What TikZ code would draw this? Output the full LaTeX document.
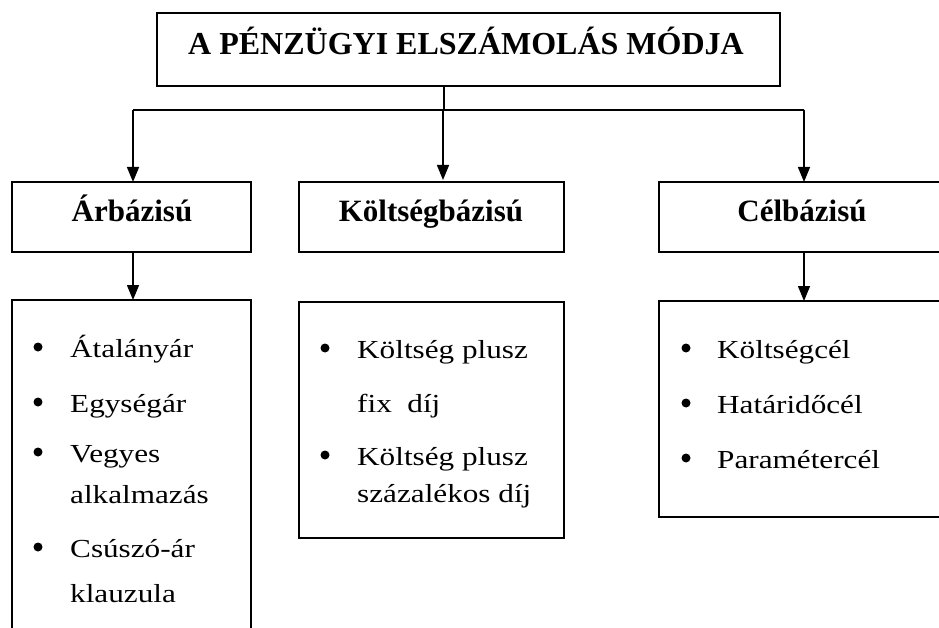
\documentclass[tikz,border=0pt]{standalone}
\usepackage{fontspec}
\setmainfont{Liberation Serif}
\newfontfamily\bodyfont[FakeStretch=1.2]{Liberation Serif}
\usetikzlibrary{arrows.meta}
\begin{document}
\begin{tikzpicture}[x=1pt,y=-1pt,
 box/.style={draw,line width=1.8pt,inner sep=0pt},
 conn/.style={line width=1.5pt},
 arr/.style={conn,-{Triangle[width=12pt,length=15pt]}},
 head/.style={font=\fontsize{31}{31}\selectfont\bfseries,anchor=base,inner sep=0pt},
 item/.style={font=\bodyfont\fontsize{26}{26}\selectfont,anchor=base west,inner sep=0pt},
 dot/.style={circle,fill,inner sep=0pt,minimum size=9pt}]
\useasboundingbox (0,0) rectangle (939,628);
% title
\node[box,minimum width=623pt,minimum height=73pt] (title) at (468.5,49.5) {};
\node[font=\fontsize{32}{32}\selectfont\bfseries,anchor=base,inner sep=0pt] (titletext) at (466,55) {A PÉNZÜGYI ELSZÁMOLÁS MÓDJA};
% level 2
\node[box,minimum width=239pt,minimum height=70pt] (ar) at (131.5,217) {};
\node[head] (artext) at (132,222) {Árbázisú};
\node[box,minimum width=265pt,minimum height=70pt] (ko) at (431.5,217) {};
\node[head] (kotext) at (431,222) {Költségbázisú};
\draw[box] (939,182) -- (659,182) -- (659,252) -- (939,252);
\node[head] (celtext) at (802,222) {Célbázisú};
% level 3 boxes
\draw[box] (12,628) -- (12,300) -- (251,300) -- (251,628);
\node[box,minimum width=265pt,minimum height=236pt] (kolist) at (431.5,420) {};
\draw[box] (939,301) -- (659,301) -- (659,517) -- (939,517);
% connector points
\coordinate (stemtop) at (444,86);
\coordinate (j) at (444,110);
\coordinate (jl) at (133,110);
\coordinate (jm) at (443,110);
\coordinate (jr) at (804,110);
\coordinate (artop) at (133,182);
\coordinate (kotop) at (443,180);
\coordinate (celtop) at (804,182);
\coordinate (arbot) at (133,252);
\coordinate (celbot) at (804,252);
\coordinate (arlisttop) at (133,300);
\coordinate (cellisttop) at (804,301);
\draw[conn] (stemtop) -- (j);
\draw[conn] (jl) -- (jr);
\draw[arr] (jl) -- (artop);
\draw[arr] (jm) -- (kotop);
\draw[arr] (jr) -- (celtop);
\draw[arr] (arbot) -- (arlisttop);
\draw[arr] (celbot) -- (cellisttop);
% left items
\node[dot] (b1) at (38,347) {};
\node[item] (l1) at (70,357) {Átalányár};
\node[dot] (b2) at (38,402) {};
\node[item] (l2) at (70,412) {Egységár};
\node[dot] (b3) at (38,452) {};
\node[item] (l3) at (70,462) {Vegyes};
\node[item] (l4) at (70,503) {alkalmazás};
\node[dot] (b4) at (38,547) {};
\node[item] (l5) at (70,557) {Csúszó-ár};
\node[item] (l6) at (70,602) {klauzula};
% middle items
\node[dot] (m1) at (325,348) {};
\node[item] (k1) at (357,358) {Költség plusz};
\node[item] (k2) at (357,412) {fix\ \ díj};
\node[dot] (m2) at (325,455) {};
\node[item] (k3) at (357,465) {Költség plusz};
\node[item] (k4) at (357,502) {százalékos díj};
% right items
\node[dot] (r1) at (686,348) {};
\node[item] (c1) at (717,358) {Költségcél};
\node[dot] (r2) at (686,403) {};
\node[item] (c2) at (717,413) {Határidőcél};
\node[dot] (r3) at (686,458) {};
\node[item] (c3) at (717,468) {Paramétercél};
\end{tikzpicture}
\end{document}
